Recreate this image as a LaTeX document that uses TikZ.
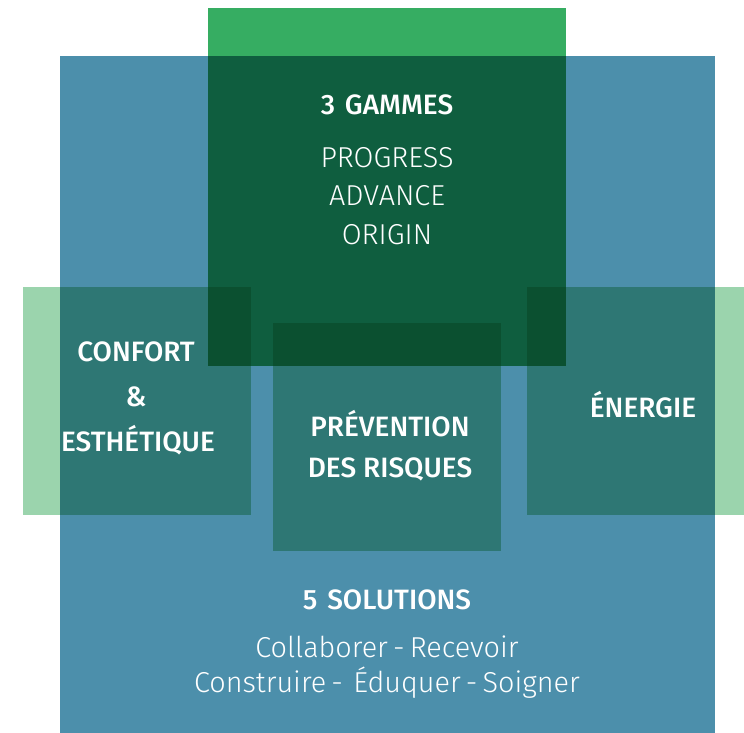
\documentclass[tikz,border=0pt]{standalone}
\usepackage{fontspec}
\setmainfont{Fira Sans}
\newfontfamily\lightfont{Fira Sans Light}
\newfontfamily\medfont{Fira Sans Medium}
\newcommand\tightsp{\spaceskip=0.18em\relax}
\definecolor{cblue}{HTML}{4C8FAB}
\definecolor{cgreen}{HTML}{36AD62}
\definecolor{cdkgreen}{HTML}{0F5E3F}
\definecolor{cltgreen}{HTML}{9BD4AD}
\definecolor{cteal}{HTML}{2E7774}
\definecolor{cdarkest}{HTML}{0B5030}
\begin{document}
\begin{tikzpicture}[x=1pt,y=-1pt,
  head/.style={text=white,font=\medfont\fontsize{28}{30}\selectfont, anchor=center, inner sep=0pt},
  sub/.style={text=white,font=\lightfont\fontsize{28.8}{30}\selectfont, anchor=center, inner sep=0pt}]
\useasboundingbox (0,0) rectangle (744,733);
% big blue
\fill[cblue] (60,56) rectangle (715,733);
% green top
\fill[cgreen] (208,8) rectangle (566,56);
\fill[cdkgreen] (208,56) rectangle (566,366);
% left
\fill[cltgreen] (23,287) rectangle (60,515);
\fill[cteal] (60,287) rectangle (251,515);
\fill[cdarkest] (208,287) rectangle (251,366);
% right
\fill[cltgreen] (715,287) rectangle (744,515);
\fill[cteal] (527,287) rectangle (715,515);
\fill[cdarkest] (527,287) rectangle (566,366);
% center
\fill[cteal] (273,323) rectangle (501,551);
\fill[cdarkest] (273,323) rectangle (501,366);
% texts
\node[head] (gammes) at (387,105) {3\hspace{0.35em}GAMMES};
\node[sub] (progress) at (387,158) {PROGRESS};
\node[sub] (advance) at (387,196) {ADVANCE};
\node[sub] (origin) at (387,235) {ORIGIN};
\node[head] (confort) at (136,352) {CONFORT};
\node[head] (amp) at (136,397) {\&};
\node[head] (esth) at (138,440) {ESTHÉTIQUE};
\node[head] (prev) at (390,424) {PRÉVENTION};
\node[head] (risq) at (390,469) {DES RISQUES};
\node[head] (energie) at (643,405) {ÉNERGIE};
\node[head] (sol) at (387,600) {5\hspace{0.35em}SOLUTIONS};
\node[sub] (collab) at (387,647) {\tightsp Collaborer - Recevoir};
\node[sub] (constr) at (387,683) {\tightsp Construire -~ Éduquer - Soigner};
\end{tikzpicture}
\end{document}
